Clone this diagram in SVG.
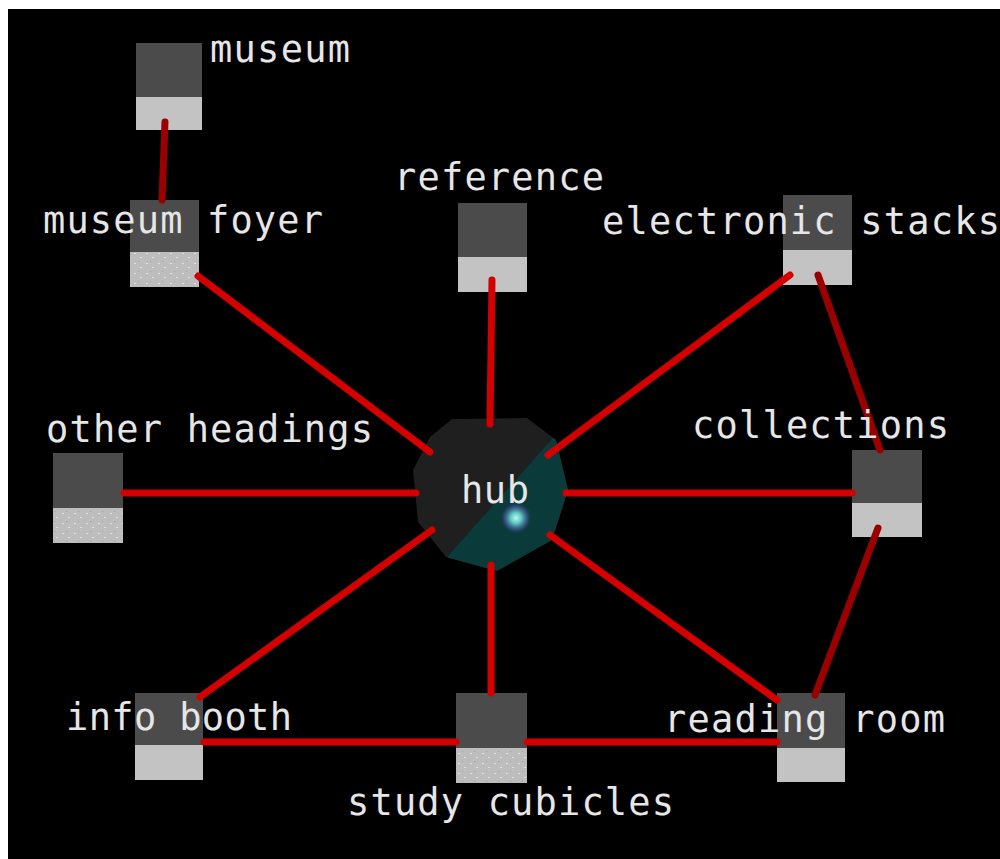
<svg xmlns="http://www.w3.org/2000/svg" width="1000" height="859" viewBox="0 0 1000 859">
<defs>
<style>
.top{fill:#4b4b4b}
.bot{fill:#c3c3c3}
.tex{fill:url(#noise)}
.lbl{font-family:"DejaVu Sans Mono","Liberation Mono",monospace;font-size:37px;fill:#e6e6e6}
.e{stroke:#d40000;stroke-width:7;stroke-linecap:round;fill:none}
.d{stroke:#9a0000;stroke-width:7;stroke-linecap:round;fill:none}
</style>
<pattern id="noise" width="12" height="10" patternUnits="userSpaceOnUse">
<rect width="12" height="10" fill="#bdbdbd"/>
<rect x="2" y="3" width="2" height="1" fill="#e2e2e2"/>
<rect x="8" y="7" width="2" height="1" fill="#e2e2e2"/>
<rect x="6" y="1" width="1" height="1" fill="#a0a0a0"/>
</pattern>
<radialGradient id="glow" cx="0.5" cy="0.5" r="0.5">
<stop offset="0" stop-color="#bff6f0"/>
<stop offset="0.35" stop-color="#5cc6c0"/>
<stop offset="0.75" stop-color="#3a4f8a" stop-opacity="0.7"/>
<stop offset="1" stop-color="#0b3a3a" stop-opacity="0"/>
</radialGradient>
<clipPath id="hubclip"><polygon points="452,419 527,418 556,440 568,490 552,540 497,571 446,557 418,522 413,470 430,437"/></clipPath>
</defs>
<rect x="0" y="0" width="1000" height="859" fill="#ffffff"/>
<rect x="8" y="9" width="992" height="850" fill="#000000"/>

<g id="hub">
<polygon points="452,419 527,418 556,440 568,490 552,540 497,571 446,557 418,522 413,470 430,437" fill="#1f1f1f"/>
<polygon clip-path="url(#hubclip)" points="560,430 580,430 580,580 430,580 440,565" fill="#0b3a3a"/>
<circle cx="516" cy="518" r="16" fill="url(#glow)"/>
<text class="lbl" x="461" y="503" textLength="68" lengthAdjust="spacing">hub</text>
</g>

<g id="museum"><rect class="top" x="136" y="43" width="66" height="55"/><rect class="bot" x="136" y="97" width="66" height="33"/></g>
<g id="museum-foyer"><rect class="top" x="130" y="200" width="69" height="53"/><rect class="tex" x="130" y="252" width="69" height="35"/></g>
<g id="reference"><rect class="top" x="458" y="203" width="69" height="55"/><rect class="bot" x="458" y="257" width="69" height="35"/></g>
<g id="electronic-stacks"><rect class="top" x="783" y="195" width="69" height="56"/><rect class="bot" x="783" y="250" width="69" height="35"/></g>
<g id="other-headings"><rect class="top" x="53" y="453" width="70" height="56"/><rect class="tex" x="53" y="508" width="70" height="35"/></g>
<g id="collections"><rect class="top" x="852" y="450" width="70" height="54"/><rect class="bot" x="852" y="503" width="70" height="34"/></g>
<g id="info-booth"><rect class="top" x="135" y="693" width="68" height="53"/><rect class="bot" x="135" y="745" width="68" height="35"/></g>
<g id="study-cubicles"><rect class="top" x="456" y="693" width="71" height="56"/><rect class="tex" x="456" y="748" width="71" height="35"/></g>
<g id="reading-room"><rect class="top" x="777" y="693" width="68" height="56"/><rect class="bot" x="777" y="748" width="68" height="34"/></g>

<g id="connectors">
<line class="d" x1="165" y1="122" x2="162" y2="200"/>
<line class="e" x1="198" y1="276" x2="430" y2="452"/>
<line class="e" x1="492" y1="280" x2="490" y2="424"/>
<line class="e" x1="790" y1="275" x2="548" y2="455"/>
<line class="d" x1="818" y1="275" x2="880" y2="450"/>
<line class="e" x1="124" y1="493" x2="416" y2="493"/>
<line class="e" x1="852" y1="493" x2="566" y2="493"/>
<line class="d" x1="878" y1="528" x2="815" y2="695"/>
<line class="e" x1="200" y1="697" x2="432" y2="530"/>
<line class="e" x1="491" y1="693" x2="491" y2="565"/>
<line class="e" x1="777" y1="700" x2="550" y2="535"/>
<line class="e" x1="204" y1="742" x2="456" y2="742"/>
<line class="e" x1="527" y1="742" x2="777" y2="742"/>
</g>

<g id="labels">
<text class="lbl" x="210" y="62" textLength="140" lengthAdjust="spacing">museum</text>
<text class="lbl" x="43" y="233" textLength="280" lengthAdjust="spacing">museum foyer</text>
<text class="lbl" x="394" y="190" textLength="210" lengthAdjust="spacing">reference</text>
<text class="lbl" x="602" y="234" textLength="398" lengthAdjust="spacing">electronic stacks</text>
<text class="lbl" x="46" y="442" textLength="327" lengthAdjust="spacing">other headings</text>
<text class="lbl" x="692" y="438" textLength="257" lengthAdjust="spacing">collections</text>
<text class="lbl" x="66" y="730" textLength="226" lengthAdjust="spacing">info booth</text>
<text class="lbl" x="347" y="815" textLength="327" lengthAdjust="spacing">study cubicles</text>
<text class="lbl" x="664" y="732" textLength="281" lengthAdjust="spacing">reading room</text>
</g>
</svg>
